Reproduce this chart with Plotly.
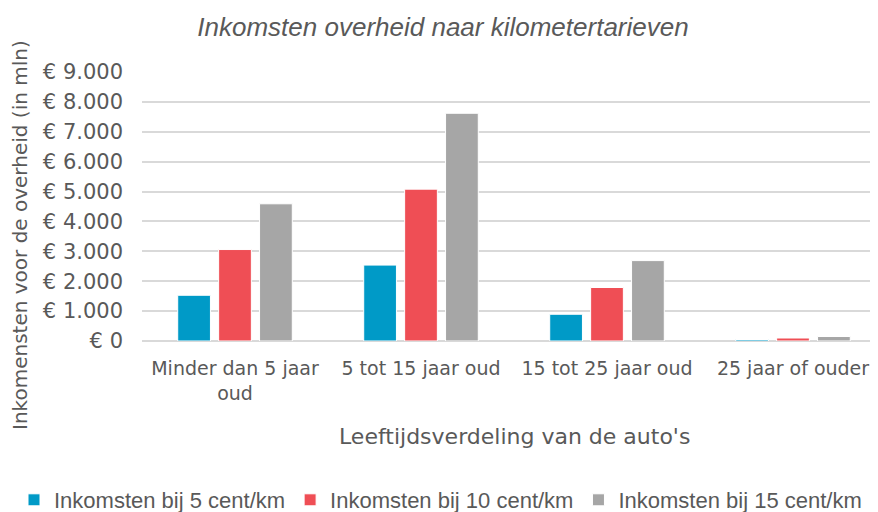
import plotly.graph_objects as go

categories = ["Minder dan 5 jaar<br>oud", "5 tot 15 jaar oud", "15 tot 25 jaar oud", "25 jaar of ouder"]
series_names = ["Inkomsten bij 5 cent/km", "Inkomsten bij 10 cent/km", "Inkomsten bij 15 cent/km"]
vals_5 = [1530, 2540, 895, 50]
vals_10 = [3060, 5080, 1790, 100]
vals_15 = [4590, 7620, 2690, 150]
colors = ["#009AC7", "#EF4E55", "#A6A6A6"]
tick_vals = [0, 1000, 2000, 3000, 4000, 5000, 6000, 7000, 8000, 9000]
tick_text = ["€ 0", "€ 1.000", "€ 2.000", "€ 3.000", "€ 4.000", "€ 5.000", "€ 6.000", "€ 7.000", "€ 8.000", "€ 9.000"]

FONT = "DejaVu Sans, Liberation Sans, Arial"
FONT2 = "Liberation Sans, Arial"
TXT = "#595959"

# the page body has an 8px margin, so the figure is 8px smaller each way
W, H = 870, 504
L, T, B, R = 134, 64, 171, 0
PW, PH = W - L - R, H - T - B

fig = go.Figure()
for name, vals, col in zip(series_names, [vals_5, vals_10, vals_15], colors):
    fig.add_trace(go.Bar(x=list(range(len(categories))), y=vals, name=name,
                         marker=dict(color=col, line=dict(color="white", width=1))))

fig.update_layout(
    width=W, height=H,
    margin=dict(l=L, r=R, t=T, b=B, pad=0, autoexpand=False),
    paper_bgcolor="white", plot_bgcolor="white",
    barmode="group", bargap=0.34, bargroupgap=0.2,
    font=dict(family=FONT, color=TXT, size=20),
    title=dict(text="<i>Inkomsten overheid naar kilometertarieven</i>",
               x=0.5, xref="container", xanchor="center", y=1 - 19 / H, yanchor="middle",
               font=dict(family=FONT2, size=26, color=TXT)),
    xaxis=dict(range=[-0.5, 3.457], tickvals=list(range(len(categories))), ticktext=categories,
               showgrid=False, showline=False, zeroline=False, ticks="", automargin=False,
               tickfont=dict(size=19, family=FONT, color=TXT), ticklabelstandoff=14),
    yaxis=dict(range=[0, 9000], tickvals=tick_vals, ticktext=tick_text,
               showgrid=True, gridcolor="#D9D9D9", gridwidth=1.5, zeroline=True,
               zerolinecolor="#D9D9D9", zerolinewidth=1.5, showline=False, ticks="",
               automargin=False,
               tickfont=dict(size=21, family=FONT, color=TXT), ticklabelstandoff=18),
    legend=dict(orientation="h", xref="paper", x=(6 - L) / PW, xanchor="left",
                yref="paper", y=-(492 - (T + PH)) / PH, yanchor="middle",
                font=dict(size=22, family=FONT2, color=TXT), itemwidth=30, tracegroupgap=0),
    annotations=[
        dict(text="Inkomensten voor de overheid (in mln)", xref="paper", yref="paper",
             x=(12 - L) / PW, y=(T + PH - 227) / PH,
             xanchor="center", yanchor="middle", textangle=-90, showarrow=False,
             font=dict(size=20, family=FONT, color=TXT)),
        dict(text="Leeftijdsverdeling van de auto's", xref="paper", yref="paper",
             x=(506 - L) / PW, y=-(428 - (T + PH)) / PH, xanchor="center", yanchor="middle",
             showarrow=False, font=dict(size=22, family=FONT, color=TXT)),
    ],
)

fig.write_html("out.html")
